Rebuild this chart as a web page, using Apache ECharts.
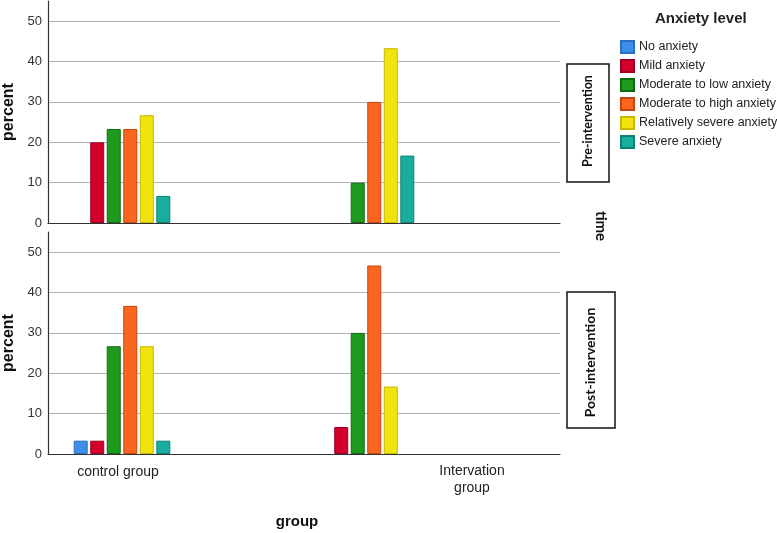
<!DOCTYPE html>
<html><head><meta charset="utf-8">
<script src="https://cdn.jsdelivr.net/npm/echarts@6/dist/echarts.min.js"></script>
<style>html,body{margin:0;padding:0;background:#fff}#c{width:777px;height:533px}</style>
</head><body><div id="c"></div>
<script>
const groups = ['control group', 'Intervation group'];
const levels = ['No anxiety','Mild anxiety','Moderate to low anxiety','Moderate to high anxiety','Relatively severe anxiety','Severe anxiety'];
const colors = ['#3d8ee8','#d3002d','#1e9a1e','#fa661f','#f1e30e','#19ad9f'];
const borders = ['#2a6fc0','#9c0020','#0f6a0f','#c4460d','#c8b800','#0e8076'];
// percent per level, [control, intervention]
const pre = [[0,0],[20,0],[23.3,10],[23.3,30],[26.7,43.3],[6.7,16.7]];
const post = [[3.3,0],[3.3,6.7],[26.7,30],[36.7,46.7],[26.7,16.7],[3.3,0]];
const yTicks = {min:0, max:55, interval:10};

const chart = echarts.init(document.getElementById('c'));
const F = 'Liberation Sans, Arial, sans-serif';
function frameY(gi){
  return {type:'value', gridIndex:gi, min:yTicks.min, max:yTicks.max, interval:yTicks.interval,
    axisLine:{show:true, lineStyle:{color:'#333', width:1.2}}, axisTick:{show:false},
    axisLabel:{color:'#333', fontFamily:F, fontSize:13, showMaxLabel:false, margin:6},
    splitLine:{show:true, showMaxLine:false, lineStyle:{color:'#b4b4b4', width:1.2}},
    name:'percent', nameLocation:'middle', nameRotate:90, nameGap:24,
    nameTextStyle:{fontFamily:F, fontWeight:'bold', fontSize:16, color:'#111'}};
}
function hiddenY(gi){ return {type:'value', gridIndex:gi, min:yTicks.min, max:yTicks.max, show:false}; }
function frameX(gi){ return {type:'value', gridIndex:gi, min:0, max:1, axisLine:{show:true, lineStyle:{color:'#333', width:1.2}}, axisTick:{show:false}, axisLabel:{show:false}, splitLine:{show:false}}; }
function barX(gi){ return {type:'category', gridIndex:gi, data:groups, show:false}; }

const series = [];
[[pre,1],[post,3]].forEach(([d,gi])=>{
  levels.forEach((lv,i)=>{
    series.push({type:'bar', name:lv, xAxisIndex:gi, yAxisIndex:gi, data:d[i].map(v=>v===0?null:v),
      barWidth:14, barGap:'18%',
      itemStyle:{color:colors[i], borderColor:borders[i], borderWidth:1}});
  });
});

const gb = {outerBoundsMode:'none', containLabel:false};
chart.setOption({
  animation:false,
  grid:[
    Object.assign({left:48, top:1, width:512, height:222}, gb),
    Object.assign({left:0, top:1, width:488, height:222}, gb),
    Object.assign({left:48, top:232, width:512, height:222}, gb),
    Object.assign({left:0, top:232, width:488, height:222}, gb)
  ],
  xAxis:[frameX(0), barX(1), frameX(2), barX(3)],
  yAxis:[frameY(0), hiddenY(1), frameY(2), hiddenY(3)],
  legend:{data:levels, orient:'vertical', left:615, top:35, itemWidth:13, itemHeight:12, itemGap:5,
    icon:'rect', textStyle:{fontFamily:F, fontSize:12.5, color:'#222'}},
  title:{text:'Anxiety level', left:650, top:6, textStyle:{fontFamily:F, fontWeight:'bold', fontSize:15, color:'#222'}},
  graphic:[
    {type:'rect', shape:{x:567, y:64, width:42, height:118}, style:{fill:'#fff', stroke:'#111', lineWidth:1.5}},
    {type:'text', x:588, y:121, rotation:Math.PI/2, style:{text:'Pre-intervention', font:'bold 12.5px Lato, sans-serif', fill:'#111', align:'center', verticalAlign:'middle'}},
    {type:'rect', shape:{x:567, y:292, width:48, height:136}, style:{fill:'#fff', stroke:'#111', lineWidth:1.5}},
    {type:'text', x:590, y:362.5, rotation:Math.PI/2, style:{text:'Post-intervention', font:'bold 14px Lato, sans-serif', fill:'#111', align:'center', verticalAlign:'middle'}},
    {type:'text', x:601, y:226, rotation:-Math.PI/2, style:{text:'time', font:'bold 15px Lato, sans-serif', fill:'#111', align:'center', verticalAlign:'middle'}},
    {type:'text', x:118, y:472, style:{text:'control group', font:'14px Liberation Sans, Arial, sans-serif', fill:'#222', align:'center', verticalAlign:'middle'}},
    {type:'text', x:472, y:480, style:{text:'Intervation\ngroup', font:'14px Liberation Sans, Arial, sans-serif', fill:'#222', align:'center', verticalAlign:'middle', lineHeight:17}},
    {type:'text', x:297, y:522, style:{text:'group', font:'bold 15px Liberation Sans, Arial, sans-serif', fill:'#111', align:'center', verticalAlign:'middle'}}
  ],
  series:series
});
</script></body></html>
